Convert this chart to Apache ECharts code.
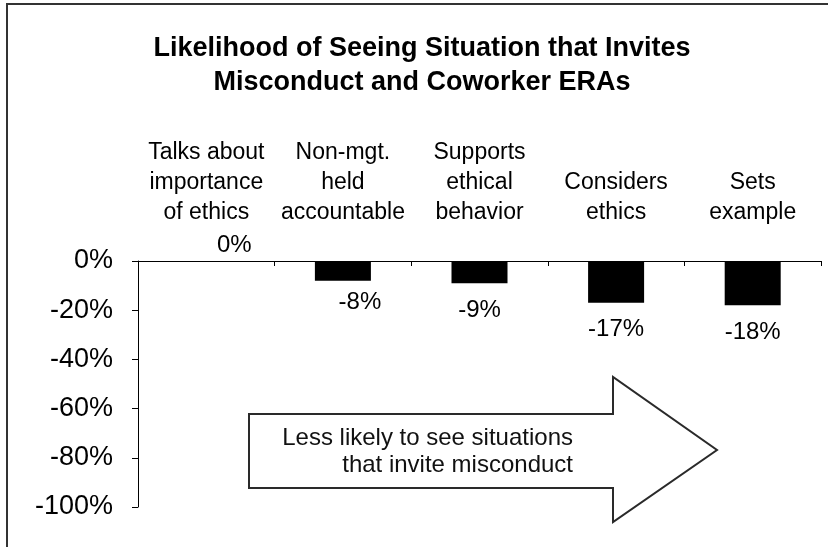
<!DOCTYPE html>
<html>
<head>
<meta charset="utf-8">
<title>Likelihood of Seeing Situation that Invites Misconduct and Coworker ERAs</title>
<script src="https://cdn.jsdelivr.net/npm/echarts@6/dist/echarts.min.js"></script>
<style>
  html, body { margin: 0; padding: 0; background: #fff; }
  #chart { width: 828px; height: 547px; }
</style>
</head>
<body>
<div id="chart"></div>
<script>
// Coworker ethics-related actions (ERAs)
const categories = [
  'Talks about\nimportance\nof ethics',
  'Non-mgt.\nheld\naccountable',
  'Supports\nethical\nbehavior',
  'Considers\nethics',
  'Sets\nexample'
];
// Change in likelihood of seeing a situation that invites misconduct (%)
const changeValues = [0, -8, -9, -17, -18];
// Value axis range and step (%)
const axisMin = -100;
const axisMax = 0;
const axisStep = 20;

const FONT = '"Liberation Sans", Arial, Helvetica, sans-serif';

const chart = echarts.init(document.getElementById('chart'), null, { renderer: 'canvas' });

const barData = changeValues.map(function (v, i) {
  const item = { value: v };
  if (v === 0) {
    item.label = { position: 'top', distance: 4, offset: [28, 0] };
  } else if (i === 1) {
    item.label = { distance: 10, offset: [17, 0] };
  }
  return item;
});

chart.setOption({
  animation: false,
  backgroundColor: '#fff',
  title: {
    text: 'Likelihood of Seeing Situation that Invites\nMisconduct and Coworker ERAs',
    left: 417,
    top: 27,
    textAlign: 'center',
    textStyle: {
      fontFamily: FONT,
      fontWeight: 'bold',
      fontSize: 27,
      lineHeight: 34,
      color: '#000'
    }
  },
  grid: {
    left: 138,
    right: 7,
    top: 261,
    bottom: 40,
    containLabel: false
  },
  xAxis: {
    type: 'category',
    position: 'top',
    data: categories,
    axisLine: { show: true, lineStyle: { color: '#000', width: 1 } },
    axisTick: { show: true, inside: true, length: 5, lineStyle: { color: '#000' } },
    axisLabel: {
      interval: 0,
      margin: 33,
      fontFamily: FONT,
      fontSize: 23,
      lineHeight: 30,
      color: '#000'
    },
    splitLine: { show: false }
  },
  yAxis: {
    type: 'value',
    min: axisMin,
    max: axisMax,
    interval: axisStep,
    axisLine: { show: true, lineStyle: { color: '#000', width: 1 } },
    axisTick: { show: true, inside: false, length: 6, lineStyle: { color: '#000' } },
    axisLabel: {
      margin: 25,
      formatter: '{value}%',
      fontFamily: FONT,
      fontSize: 27,
      color: '#000'
    },
    splitLine: { show: false }
  },
  series: [{
    type: 'bar',
    data: barData,
    barWidth: '41%',
    itemStyle: { color: '#000' },
    label: {
      show: true,
      position: 'bottom',
      distance: 15,
      formatter: '{c}%',
      fontFamily: FONT,
      fontSize: 24,
      color: '#000'
    }
  }],
  graphic: [
    // frame along the top and left edges
    {
      type: 'polyline',
      silent: true,
      shape: { points: [[7, 547], [7, 4], [828, 4]] },
      style: { stroke: '#333', lineWidth: 2, fill: null }
    },
    // direction arrow
    {
      type: 'polygon',
      silent: true,
      shape: {
        points: [[249, 414], [613, 414], [613, 377], [717, 450], [613, 522], [613, 488], [249, 488]]
      },
      style: { fill: '#fff', stroke: '#2a2a2a', lineWidth: 2 }
    },
    {
      type: 'text',
      silent: true,
      style: {
        x: 573,
        y: 438,
        text: 'Less likely to see situations',
        textAlign: 'right',
        textVerticalAlign: 'middle',
        font: '24px ' + FONT,
        fill: '#111'
      }
    },
    {
      type: 'text',
      silent: true,
      style: {
        x: 573,
        y: 465,
        text: 'that invite misconduct',
        textAlign: 'right',
        textVerticalAlign: 'middle',
        font: '24px ' + FONT,
        fill: '#111'
      }
    }
  ]
});
</script>
</body>
</html>
